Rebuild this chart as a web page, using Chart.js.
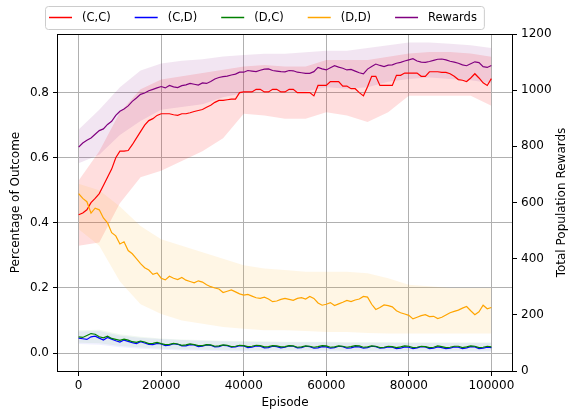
<!DOCTYPE html>
<html>
<head>
<meta charset="utf-8">
<script src="https://cdn.jsdelivr.net/npm/chart.js@4.4.0/dist/chart.umd.min.js"></script>
<style>
  body { margin: 0; background: #fff; }
  canvas { display: block; }
</style>
</head>
<body>
<canvas id="outcomeChart" width="568" height="411"></canvas>
<script>
const episodes = [
    0, 1000, 2000, 3000, 4000, 5000, 6000, 7000, 8000, 9000,
    10000, 11000, 12000, 13000, 14000, 15000, 16000, 17000, 18000, 19000,
    20000, 21000, 22000, 23000, 24000, 25000, 26000, 27000, 28000, 29000,
    30000, 31000, 32000, 33000, 34000, 35000, 36000, 37000, 38000, 39000,
    40000, 41000, 42000, 43000, 44000, 45000, 46000, 47000, 48000, 49000,
    50000, 51000, 52000, 53000, 54000, 55000, 56000, 57000, 58000, 59000,
    60000, 61000, 62000, 63000, 64000, 65000, 66000, 67000, 68000, 69000,
    70000, 71000, 72000, 73000, 74000, 75000, 76000, 77000, 78000, 79000,
    80000, 81000, 82000, 83000, 84000, 85000, 86000, 87000, 88000, 89000,
    90000, 91000, 92000, 93000, 94000, 95000, 96000, 97000, 98000, 99000,
    100000];

// Mean share of each outcome (left axis)
const ccMean = [
    0.425, 0.43, 0.44, 0.462, 0.475, 0.49, 0.515, 0.54, 0.565, 0.6,
    0.62, 0.62, 0.622, 0.64, 0.66, 0.68, 0.7, 0.714, 0.72, 0.73,
    0.735, 0.735, 0.735, 0.732, 0.73, 0.735, 0.735, 0.738, 0.742, 0.745,
    0.748, 0.755, 0.761, 0.77, 0.776, 0.776, 0.778, 0.78, 0.78, 0.8,
    0.802, 0.802, 0.802, 0.81, 0.81, 0.802, 0.802, 0.81, 0.81, 0.802,
    0.802, 0.81, 0.81, 0.8, 0.8, 0.8, 0.8, 0.79, 0.822, 0.822,
    0.822, 0.834, 0.834, 0.834, 0.82, 0.82, 0.812, 0.812, 0.8, 0.79,
    0.818, 0.85, 0.85, 0.822, 0.822, 0.822, 0.822, 0.853, 0.853, 0.86,
    0.86, 0.86, 0.86, 0.85, 0.85, 0.864, 0.864, 0.864, 0.862, 0.862,
    0.858, 0.85, 0.84, 0.838, 0.834, 0.845, 0.858, 0.845, 0.83, 0.822,
    0.843];
const cdMean = [
    0.046, 0.044, 0.042, 0.05, 0.052, 0.046, 0.04, 0.048, 0.043, 0.038,
    0.034, 0.04, 0.036, 0.032, 0.029, 0.035, 0.031, 0.027, 0.026, 0.03,
    0.028, 0.023, 0.024, 0.029, 0.027, 0.022, 0.022, 0.026, 0.025, 0.02,
    0.021, 0.025, 0.024, 0.019, 0.02, 0.024, 0.023, 0.018, 0.019, 0.023,
    0.022, 0.017, 0.018, 0.022, 0.021, 0.016, 0.017, 0.021, 0.02, 0.016,
    0.018, 0.022, 0.021, 0.016, 0.017, 0.021, 0.02, 0.015, 0.016, 0.02,
    0.019, 0.015, 0.017, 0.021, 0.02, 0.015, 0.016, 0.02, 0.019, 0.015,
    0.017, 0.021, 0.02, 0.015, 0.016, 0.019, 0.018, 0.014, 0.015, 0.019,
    0.018, 0.014, 0.016, 0.02, 0.019, 0.014, 0.015, 0.019, 0.017, 0.014,
    0.015, 0.019, 0.018, 0.014, 0.016, 0.02, 0.019, 0.014, 0.015, 0.018,
    0.017];
const dcMean = [
    0.05, 0.048, 0.054, 0.06, 0.058, 0.05, 0.047, 0.052, 0.045, 0.042,
    0.039, 0.043, 0.04, 0.035, 0.033, 0.037, 0.034, 0.029, 0.03, 0.033,
    0.029, 0.026, 0.027, 0.03, 0.028, 0.024, 0.025, 0.028, 0.026, 0.023,
    0.023, 0.026, 0.025, 0.021, 0.022, 0.025, 0.024, 0.02, 0.021, 0.024,
    0.023, 0.02, 0.021, 0.024, 0.023, 0.019, 0.02, 0.023, 0.022, 0.019,
    0.02, 0.023, 0.022, 0.018, 0.019, 0.022, 0.021, 0.018, 0.02, 0.023,
    0.022, 0.018, 0.019, 0.022, 0.021, 0.018, 0.02, 0.023, 0.022, 0.018,
    0.019, 0.022, 0.021, 0.017, 0.018, 0.021, 0.02, 0.017, 0.019, 0.022,
    0.021, 0.017, 0.018, 0.021, 0.02, 0.017, 0.018, 0.022, 0.02, 0.017,
    0.018, 0.021, 0.021, 0.017, 0.019, 0.022, 0.021, 0.017, 0.018, 0.021,
    0.019];
const ddMean = [
    0.49, 0.475, 0.465, 0.43, 0.445, 0.44, 0.415, 0.4, 0.37, 0.36,
    0.335, 0.342, 0.315, 0.305, 0.29, 0.275, 0.262, 0.255, 0.242, 0.246,
    0.23, 0.225, 0.236, 0.23, 0.226, 0.232, 0.224, 0.22, 0.216, 0.222,
    0.218, 0.21, 0.204, 0.2, 0.197, 0.186, 0.19, 0.194, 0.188, 0.182,
    0.178, 0.18, 0.175, 0.17, 0.168, 0.172, 0.166, 0.158, 0.16, 0.165,
    0.168, 0.165, 0.162, 0.168, 0.17, 0.166, 0.174, 0.168, 0.154, 0.147,
    0.15, 0.155, 0.146, 0.151, 0.156, 0.162, 0.158, 0.163, 0.166, 0.174,
    0.172, 0.15, 0.134, 0.14, 0.148, 0.146, 0.142, 0.13, 0.124, 0.12,
    0.116, 0.105, 0.11, 0.115, 0.118, 0.112, 0.113, 0.106, 0.11, 0.117,
    0.124, 0.128, 0.132, 0.138, 0.143, 0.13, 0.118, 0.127, 0.147, 0.136,
    0.14];

// Mean total population reward (right axis)
const rewardMean = [
    797, 812, 822, 830, 843, 856, 862, 878, 889, 910,
    925, 933, 944, 960, 972, 985, 990, 998, 1003, 1008,
    1013, 1008, 1017, 1012, 1009, 1016, 1019, 1024, 1021, 1018,
    1026, 1024, 1031, 1040, 1045, 1048, 1050, 1054, 1057, 1064,
    1064, 1070, 1068, 1066, 1071, 1075, 1076, 1070, 1068, 1066,
    1065, 1070, 1069, 1064, 1062, 1060, 1060, 1066, 1081, 1076,
    1072, 1080, 1087, 1082, 1078, 1072, 1074, 1068, 1062, 1058,
    1075, 1084, 1093, 1088, 1084, 1089, 1090, 1096, 1099, 1104,
    1108, 1112, 1104, 1100, 1099, 1102, 1106, 1110, 1111, 1108,
    1103, 1100, 1096, 1090, 1087, 1094, 1101, 1098, 1084, 1081,
    1088];

// Spread bands, read on a coarser grid
const bandEpisodes = [0, 5000, 10000, 15000, 20000, 25000, 30000, 35000, 40000, 45000,
    50000, 55000, 60000, 65000, 70000, 75000, 80000, 85000, 90000, 95000, 100000];
const ccLow = [0.33, 0.34, 0.46, 0.54, 0.56, 0.59, 0.62, 0.66, 0.735, 0.73, 0.72, 0.72, 0.74, 0.73, 0.71, 0.74, 0.79, 0.79, 0.79, 0.79, 0.76];
const ccHigh = [0.53, 0.62, 0.74, 0.81, 0.84, 0.85, 0.86, 0.87, 0.88, 0.885, 0.88, 0.88, 0.9, 0.9, 0.9, 0.91, 0.92, 0.925, 0.925, 0.92, 0.91];
const cdLow = [0.028, 0.026, 0.018, 0.013, 0.01, 0.008, 0.007, 0.006, 0.005, 0.005, 0.005, 0.005, 0.005, 0.004, 0.004, 0.004, 0.004, 0.004, 0.004, 0.004, 0.004];
const cdHigh = [0.066, 0.068, 0.054, 0.047, 0.043, 0.04, 0.038, 0.036, 0.035, 0.034, 0.033, 0.033, 0.033, 0.032, 0.032, 0.032, 0.031, 0.031, 0.031, 0.031, 0.031];
const dcLow = [0.032, 0.03, 0.022, 0.017, 0.013, 0.011, 0.01, 0.009, 0.008, 0.008, 0.008, 0.008, 0.008, 0.007, 0.007, 0.007, 0.007, 0.007, 0.007, 0.007, 0.007];
const dcHigh = [0.07, 0.072, 0.058, 0.05, 0.045, 0.042, 0.04, 0.038, 0.037, 0.036, 0.035, 0.035, 0.035, 0.034, 0.034, 0.034, 0.033, 0.033, 0.033, 0.033, 0.033];
const ddLow = [0.38, 0.33, 0.22, 0.15, 0.12, 0.1, 0.09, 0.08, 0.075, 0.07, 0.07, 0.068, 0.065, 0.065, 0.062, 0.06, 0.06, 0.06, 0.06, 0.06, 0.06];
const ddHigh = [0.52, 0.5, 0.45, 0.39, 0.35, 0.33, 0.31, 0.29, 0.27, 0.26, 0.255, 0.25, 0.25, 0.25, 0.245, 0.23, 0.21, 0.205, 0.2, 0.2, 0.2];
const rewardLow = [740, 770, 840, 890, 930, 940, 950, 975, 990, 1000, 995, 995, 1010, 1005, 1010, 1030, 1040, 1045, 1040, 1035, 1025];
const rewardHigh = [860, 930, 1010, 1070, 1095, 1105, 1110, 1120, 1125, 1130, 1130, 1135, 1140, 1140, 1150, 1160, 1170, 1170, 1165, 1160, 1150];

// Axis ticks and labels
const xTicks = [0, 20000, 40000, 60000, 80000, 100000];
const pctTicks = [0, 0.2, 0.4, 0.6, 0.8];
const rewardTicks = [0, 200, 400, 600, 800, 1000, 1200];
const seriesLabels = ['(C,C)', '(C,D)', '(D,C)', '(D,D)', 'Rewards'];
const seriesColors = ['#ff0000', '#0000ff', '#008000', '#ffa500', '#800080'];

const FONT = 'DejaVu Sans';
Chart.defaults.font.family = FONT;
Chart.defaults.font.size = 12;
Chart.defaults.color = '#000';

function points(xs, ys) {
    return xs.map((x, i) => ({ x: x, y: ys[i] }));
}

function lineSet(label, color, values, axis) {
    return {
        label: label,
        data: points(episodes, values),
        borderColor: color,
        borderWidth: 1.2,
        pointRadius: 0,
        fill: false,
        tension: 0,
        yAxisID: axis
    };
}

function bandSets(low, high, color, axis) {
    return [{
        data: points(bandEpisodes, low),
        borderWidth: 0,
        pointRadius: 0,
        fill: false,
        yAxisID: axis
    }, {
        data: points(bandEpisodes, high),
        borderWidth: 0,
        pointRadius: 0,
        fill: '-1',
        backgroundColor: color,
        yAxisID: axis
    }];
}

// first dataset ends up on top
const datasets = [
    lineSet('Rewards', seriesColors[4], rewardMean, 'y2'),
    lineSet('(D,D)', seriesColors[3], ddMean, 'y'),
    lineSet('(D,C)', seriesColors[2], dcMean, 'y'),
    lineSet('(C,D)', seriesColors[1], cdMean, 'y'),
    lineSet('(C,C)', seriesColors[0], ccMean, 'y'),
    ...bandSets(rewardLow, rewardHigh, 'rgba(128, 0, 128, 0.1)', 'y2'),
    ...bandSets(ddLow, ddHigh, 'rgba(255, 165, 0, 0.1)', 'y'),
    ...bandSets(dcLow, dcHigh, 'rgba(0, 128, 0, 0.06)', 'y'),
    ...bandSets(cdLow, cdHigh, 'rgba(0, 0, 255, 0.06)', 'y'),
    ...bandSets(ccLow, ccHigh, 'rgba(255, 0, 0, 0.13)', 'y')
];

// matplotlib-like frame, legend box and right axis label
const decorations = {
    id: 'decorations',
    afterDraw(chart) {
        const ctx = chart.ctx;
        const area = chart.chartArea;
        ctx.save();
        ctx.strokeStyle = '#000';
        ctx.lineWidth = 1;
        ctx.strokeRect(Math.round(area.left) - 0.5, Math.round(area.top) + 0.5,
            Math.round(area.right - area.left) + 1, Math.round(area.bottom - area.top));

        ctx.translate(562, (area.top + area.bottom) / 2);
        ctx.rotate(-Math.PI / 2);
        ctx.font = '12px "' + FONT + '"';
        ctx.fillStyle = '#000';
        ctx.textAlign = 'center';
        ctx.textBaseline = 'middle';
        ctx.fillText('Total Population Rewards', 0, 0);
        ctx.restore();

        ctx.save();
        ctx.font = '11.5px "' + FONT + '"';
        const handle = 23, gap = 10, colGap = 24;
        let x = 49;
        const items = seriesLabels.map((label, i) => {
            const item = { label: label, color: seriesColors[i], x: x };
            x += handle + gap + ctx.measureText(label).width + colGap;
            return item;
        });
        const boxRight = x - colGap + 7;
        ctx.beginPath();
        ctx.roundRect(45.5, 6.5, boxRight - 45, 23, 3);
        ctx.fillStyle = 'rgba(255, 255, 255, 0.8)';
        ctx.fill();
        ctx.strokeStyle = '#cccccc';
        ctx.lineWidth = 1;
        ctx.stroke();
        ctx.textBaseline = 'middle';
        ctx.textAlign = 'left';
        items.forEach(item => {
            ctx.beginPath();
            ctx.strokeStyle = item.color;
            ctx.lineWidth = 1.5;
            ctx.moveTo(item.x, 17.5);
            ctx.lineTo(item.x + handle, 17.5);
            ctx.stroke();
            ctx.fillStyle = '#000';
            ctx.fillText(item.label, item.x + handle + gap, 18);
        });
        ctx.restore();
    }
};

new Chart(document.getElementById('outcomeChart'), {
    type: 'line',
    data: { datasets: datasets },
    options: {
        responsive: false,
        animation: false,
        layout: { padding: { top: 34, left: 0, right: 0, bottom: 0 } },
        plugins: {
            legend: { display: false },
            tooltip: { enabled: false }
        },
        scales: {
            x: {
                type: 'linear',
                min: -5000,
                max: 105000,
                afterBuildTicks: scale => { scale.ticks = xTicks.map(v => ({ value: v })); },
                afterFit: scale => { scale.height = 40; },
                ticks: {
                    callback: value => String(value),
                    padding: 3,
                    maxRotation: 0,
                    autoSkip: false
                },
                grid: { color: '#b0b0b0', lineWidth: 1, tickColor: '#000', tickLength: 5 },
                border: { display: false },
                title: { display: true, text: 'Episode', padding: { top: 0, bottom: 1 } }
            },
            y: {
                position: 'left',
                min: -0.055,
                max: 0.98,
                afterBuildTicks: scale => { scale.ticks = pctTicks.map(v => ({ value: v })); },
                afterFit: scale => { scale.width = 58; },
                ticks: { callback: value => value.toFixed(1), padding: 4 },
                grid: { color: '#b0b0b0', lineWidth: 1, tickColor: '#000', tickLength: 5 },
                border: { display: false },
                title: { display: true, text: 'Percentage of Outcome', padding: { top: 9, bottom: 0 } }
            },
            y2: {
                position: 'right',
                min: 0,
                max: 1200,
                afterBuildTicks: scale => { scale.ticks = rewardTicks.map(v => ({ value: v })); },
                afterFit: scale => { scale.width = 56; },
                ticks: { callback: value => String(value), padding: 4 },
                grid: { drawOnChartArea: false, tickColor: '#000', tickLength: 5 },
                border: { display: false }
            }
        }
    },
    plugins: [decorations]
});
</script>
</body>
</html>
